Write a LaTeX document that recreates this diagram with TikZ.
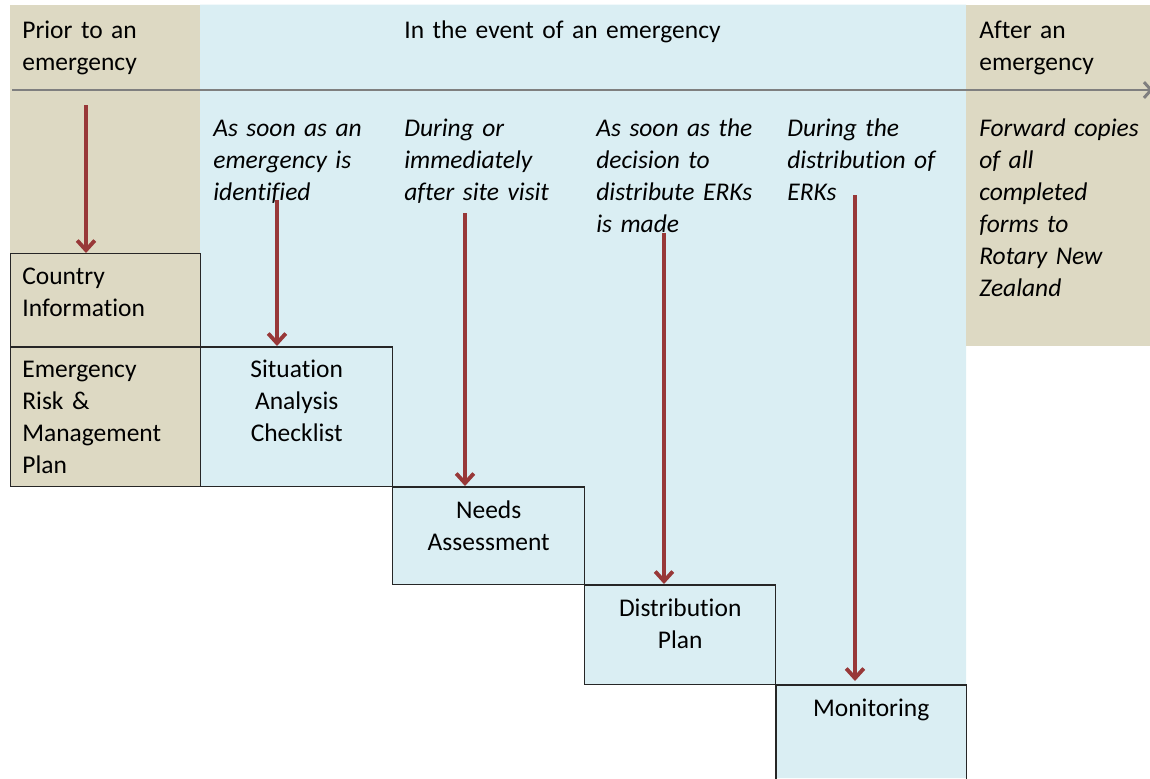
\documentclass[tikz,border=0pt]{standalone}
\usepackage{fontspec}
\setmainfont{Carlito}[Ligatures=NoCommon]
\usetikzlibrary{arrows.meta,positioning,calc}

\definecolor{tanbg}{HTML}{DDD9C3}
\definecolor{bluebg}{HTML}{DAEEF3}
\definecolor{arrowred}{HTML}{983838}
\definecolor{linegray}{HTML}{7F7F7F}

\tikzset{
  phase/.style={font=\fontsize{14.5}{18.3}\selectfont, anchor=base west, inner sep=0, text width=3.7cm, align=left},
  when/.style={phase, font=\fontsize{14.5}{18.3}\selectfont\itshape},
  stepbox/.style={draw=black!85, line width=0.85pt, anchor=north west, inner sep=0},
  steptext/.style={font=\fontsize{14.5}{18.3}\selectfont, anchor=base, inner sep=0, text width=3.6cm, align=center},
  trigger/.style={draw=arrowred, line width=2.3pt, -{Straight Barb[length=5.5pt,width=10pt,line width=2.2pt]}},
  timeline/.style={draw=linegray, line width=1.7pt, -{Straight Barb[length=4pt,width=9pt]}}
}

\begin{document}
\begin{tikzpicture}[x=0.02cm, y=-0.02cm]
\useasboundingbox (0,0) rectangle (1150,778);
\clip (0,0) rectangle (1150,778);

% background phases
\fill[tanbg] (10,4.5) rectangle (200,486);
\fill[bluebg] (200,4.5) -- (966,4.5) -- (966,778) -- (775,778) -- (775,684) -- (584,684)
  -- (584,584) -- (392,584) -- (392,486) -- (200,486) -- cycle;
\fill[tanbg] (966,4.5) rectangle (1150,346);

% time line
\coordinate (tl0) at (12,90);
\coordinate (tl1) at (1153,90);
\draw[timeline] (tl0) -- (tl1);

% phase headings
\node[phase] (prior) at (22,38) {Prior to an\\emergency};
\node[phase, text width=8cm] (event) at (404,38) {In the event of an emergency};
\node[phase] (after) at (979,38) {After an\\emergency};

% steps
\node[stepbox, minimum width=3.8cm, minimum height=1.86cm] (country) at (10,253) {};
\node[stepbox, minimum width=3.8cm, minimum height=2.8cm] (erm) at (10,346) {};
\node[stepbox, minimum width=3.84cm, minimum height=2.8cm] (sit) at (200,346) {};
\node[stepbox, minimum width=3.84cm, minimum height=1.96cm] (needs) at (392,486) {};
\node[stepbox, minimum width=3.82cm, minimum height=2cm] (dist) at (584,584) {};
\node[stepbox, minimum width=3.82cm, minimum height=2.4cm] (mon) at (775,684) {};

\node[phase] (countrytxt) at ($(country.north west)+(12,31)$) {Country\\Information};
\node[phase] (ermtxt) at ($(erm.north west)+(12,31)$) {Emergency\\Risk \&\\Management\\Plan};
\node[steptext] (sittxt) at ($(sit.north)+(0,31)$) {Situation\\Analysis\\Checklist};
\node[steptext] (needstxt) at ($(needs.north)+(0,32)$) {Needs\\Assessment};
\node[steptext] (disttxt) at ($(dist.north)+(0,32)$) {Distribution\\Plan};
\node[steptext] (montxt) at ($(mon.north)+(0,32)$) {Monitoring};

% when each step is done
\node[when] (w1) at (213,136) {As soon as an\\emergency is\\identified};
\node[when] (w2) at (404,136) {During or\\immediately\\after site visit};
\node[when] (w3) at (596,136) {As soon as the\\decision to\\distribute ERKs\\is made};
\node[when] (w4) at (787,136) {During the\\distribution of\\ERKs};
\node[when] (w5) at (979,136) {Forward copies\\of all\\completed\\forms to\\Rotary New\\Zealand};

% arrows into the steps
\coordinate (a0) at (86,105);
\coordinate (a1) at (277,200);
\coordinate (a2) at (465,213);
\coordinate (a3) at (664,233);
\coordinate (a4) at (855,195);
\draw[trigger] (a0) -- (a0 |- country.north);
\draw[trigger] (a1) -- (a1 |- sit.north);
\draw[trigger] (a2) -- (a2 |- needs.north);
\draw[trigger] (a3) -- (a3 |- dist.north);
\draw[trigger] (a4) -- ($(a4 |- mon.north)+(0,-3)$);
\end{tikzpicture}
\end{document}
